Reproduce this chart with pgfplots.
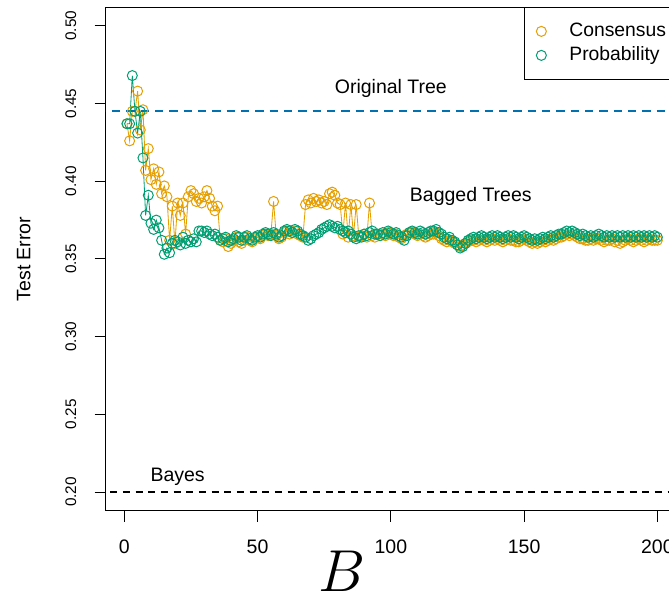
\documentclass[border=0pt]{standalone}
\usepackage{graphicx}
\usepackage{fontspec}
\setmainfont{Liberation Sans}
\usepackage{pgfplots}
\usepackage{pgfplotstable}
\pgfplotsset{compat=1.18}

\definecolor{consensus}{HTML}{E69F00}
\definecolor{probability}{HTML}{009E73}
\definecolor{origtree}{HTML}{0072B2}

% test error against number of bootstrap samples B
\pgfplotstableread{
B cons prob
1 0.437 0.437
2 0.426 0.437
3 0.445 0.468
4 0.445 0.445
5 0.458 0.431
6 0.433 0.445
7 0.446 0.415
8 0.407 0.378
9 0.421 0.391
10 0.401 0.373
11 0.408 0.369
12 0.398 0.375
13 0.406 0.370
14 0.392 0.362
15 0.397 0.353
16 0.390 0.357
17 0.362 0.354
18 0.384 0.360
19 0.360 0.362
20 0.386 0.361
21 0.378 0.359
22 0.386 0.364
23 0.366 0.360
24 0.390 0.362
25 0.394 0.361
26 0.392 0.363
27 0.387 0.361
28 0.389 0.368
29 0.386 0.368
30 0.390 0.367
31 0.394 0.368
32 0.389 0.366
33 0.384 0.365
34 0.381 0.366
35 0.384 0.364
36 0.362 0.362
37 0.361 0.363
38 0.363 0.364
39 0.358 0.361
40 0.360 0.362
41 0.362 0.363
42 0.364 0.365
43 0.361 0.364
44 0.360 0.362
45 0.362 0.364
46 0.364 0.365
47 0.362 0.363
48 0.361 0.362
49 0.363 0.364
50 0.364 0.365
51 0.363 0.364
52 0.365 0.366
53 0.366 0.367
54 0.365 0.366
55 0.366 0.365
56 0.387 0.367
57 0.365 0.366
58 0.363 0.364
59 0.364 0.365
60 0.367 0.368
61 0.368 0.369
62 0.366 0.368
63 0.367 0.367
64 0.368 0.369
65 0.366 0.368
66 0.365 0.366
67 0.364 0.365
68 0.385 0.364
69 0.388 0.362
70 0.386 0.363
71 0.389 0.365
72 0.387 0.366
73 0.388 0.367
74 0.386 0.369
75 0.387 0.370
76 0.385 0.371
77 0.392 0.372
78 0.393 0.371
79 0.391 0.370
80 0.386 0.371
81 0.385 0.369
82 0.366 0.368
83 0.386 0.367
84 0.364 0.368
85 0.385 0.366
86 0.365 0.364
87 0.385 0.363
88 0.364 0.365
89 0.365 0.364
90 0.366 0.366
91 0.364 0.365
92 0.386 0.367
93 0.365 0.368
94 0.364 0.366
95 0.366 0.366
96 0.365 0.365
97 0.366 0.367
98 0.365 0.366
99 0.367 0.368
100 0.366 0.367
101 0.365 0.366
102 0.366 0.367
103 0.364 0.365
104 0.363 0.364
105 0.365 0.362
106 0.366 0.365
107 0.367 0.367
108 0.367 0.368
109 0.366 0.367
110 0.365 0.366
111 0.366 0.368
112 0.365 0.367
113 0.364 0.366
114 0.365 0.367
115 0.366 0.368
116 0.366 0.368
117 0.367 0.369
118 0.365 0.367
119 0.363 0.366
120 0.362 0.364
121 0.361 0.363
122 0.362 0.364
123 0.361 0.362
124 0.360 0.361
125 0.359 0.359
126 0.358 0.357
127 0.359 0.358
128 0.360 0.360
129 0.361 0.362
130 0.362 0.363
131 0.362 0.364
132 0.361 0.363
133 0.362 0.364
134 0.363 0.365
135 0.362 0.364
136 0.361 0.363
137 0.362 0.364
138 0.363 0.365
139 0.362 0.364
140 0.363 0.365
141 0.362 0.364
142 0.361 0.363
143 0.362 0.364
144 0.363 0.365
145 0.362 0.364
146 0.362 0.365
147 0.361 0.364
148 0.361 0.363
149 0.362 0.364
150 0.363 0.365
151 0.362 0.364
152 0.361 0.363
153 0.360 0.362
154 0.361 0.363
155 0.360 0.362
156 0.361 0.363
157 0.362 0.364
158 0.361 0.363
159 0.362 0.364
160 0.363 0.365
161 0.362 0.364
162 0.363 0.365
163 0.364 0.366
164 0.364 0.366
165 0.365 0.367
166 0.366 0.368
167 0.365 0.367
168 0.366 0.368
169 0.365 0.367
170 0.364 0.366
171 0.363 0.365
172 0.363 0.366
173 0.362 0.365
174 0.362 0.364
175 0.363 0.365
176 0.362 0.364
177 0.363 0.365
178 0.363 0.366
179 0.362 0.365
180 0.361 0.364
181 0.362 0.365
182 0.362 0.364
183 0.363 0.365
184 0.361 0.364
185 0.362 0.365
186 0.360 0.364
187 0.361 0.365
188 0.362 0.364
189 0.363 0.365
190 0.362 0.364
191 0.361 0.365
192 0.362 0.364
193 0.363 0.365
194 0.362 0.364
195 0.361 0.365
196 0.362 0.364
197 0.363 0.365
198 0.362 0.364
199 0.362 0.365
200 0.362 0.364
}\errtab

\begin{document}
\begin{tikzpicture}
\begin{axis}[
  at={(63.45pt,50.58pt)}, anchor=south west,
  scale only axis, width=343.7pt, height=302.1pt,
  xmin=-6.96, xmax=207.96, ymin=0.188, ymax=0.512,
  xtick={0,50,100,150,200},
  ytick={0.20,0.25,0.30,0.35,0.40,0.45,0.50},
  tick pos=left, tick align=outside, major tick length=6.6pt,
  axis line style={line width=0.6pt},
  every tick/.style={black, line width=0.6pt},
  /pgf/number format/assume math mode=true,
  xticklabel shift=7.2pt,
  yticklabel shift=7.6pt,
  xticklabel style={font=\fontsize{11.7}{14}\selectfont},
  yticklabel style={font=\fontsize{9.2}{11}\selectfont, rotate=90, anchor=south,
    /pgf/number format/.cd, fixed, fixed zerofill, precision=2},
  xlabel={\scalebox{1.427}{$B$}},
  xlabel style={font=\fontsize{24.88}{26}\selectfont, at={(axis description cs:0.412,-0.161)}, anchor=base},
  ylabel={Test Error},
  ylabel style={font=\fontsize{11.7}{14}\selectfont, at={(axis description cs:-0.143,0.5)}, anchor=center},
  legend style={at={(1,1)}, anchor=north east, draw=black, line width=0.6pt,
    inner xsep=7.2pt, inner ysep=8.7pt, row sep=3.4pt,
    font=\fontsize{11.6}{13}\selectfont,
    nodes={inner sep=0pt, text height=8.5pt, text depth=2.5pt},
    /tikz/column 1/.style={column sep=13.8pt}},
  legend cell align=left,
  legend image code/.code={\draw[#1] plot coordinates {(0pt,0pt)};},
]
\addplot[consensus, line width=0.5pt, mark=o, mark size=3pt, mark options={line width=0.6pt}, forget plot]
  table[x=B, y=cons]{\errtab};
\addplot[probability, line width=0.5pt, mark=o, mark size=3pt, mark options={line width=0.6pt}, forget plot]
  table[x=B, y=prob]{\errtab};

\addplot[origtree, line width=1.2pt, dash pattern=on 5pt off 3.6pt, forget plot]
  coordinates {(-10,0.445) (220,0.445)};
\addplot[black, line width=1pt, dash pattern=on 4.2pt off 3.4pt, forget plot]
  coordinates {(-10,0.20) (220,0.20)};

\addlegendimage{consensus, mark=o, mark size=3pt, line width=0.6pt}
\addlegendentry{Consensus}
\addlegendimage{probability, mark=o, mark size=3pt, line width=0.6pt}
\addlegendentry{Probability}

\node[font=\fontsize{11.7}{14}\selectfont] at (axis cs:100,0.46) {Original Tree};
\node[font=\fontsize{11.7}{14}\selectfont] at (axis cs:130,0.39) {Bagged Trees};
\node[font=\fontsize{11.7}{14}\selectfont] at (axis cs:20,0.21) {Bayes};
\end{axis}
\pgfresetboundingbox
\useasboundingbox (0,0) rectangle (401.4pt,357pt);
\end{tikzpicture}
\end{document}
